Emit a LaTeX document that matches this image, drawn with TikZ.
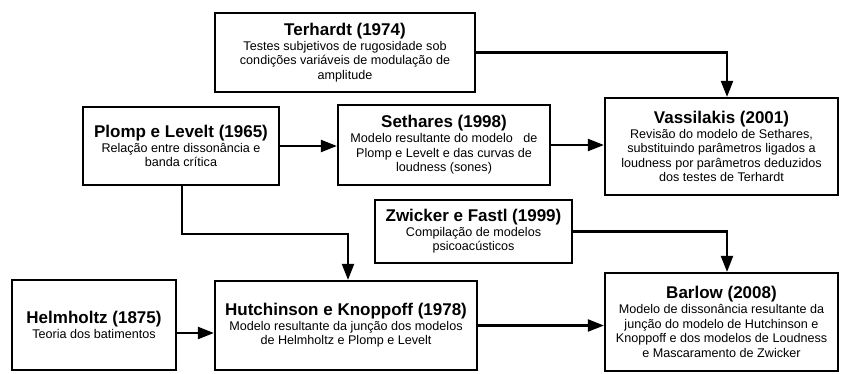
\documentclass[tikz,border=0pt]{standalone}
\usepackage{fontspec}
\setmainfont{Liberation Sans}
\usepackage{tikz}
\usetikzlibrary{arrows.meta, positioning}

\begin{document}
\begin{tikzpicture}[
    x=1pt, y=-1pt,
    >={Triangle[length=16pt, width=12pt]},
    line width=2.2pt,
    box/.style={rectangle, draw, line width=2.2pt, align=center, inner sep=2pt,
                font=\fontsize{12.6}{14.6}\selectfont}
]
\useasboundingbox (0,0) rectangle (842,373);

% Nodes
\node[box, minimum width=260pt, minimum height=79pt] (terhardt) at (345,52.5)
  {{\fontsize{17}{19}\selectfont\bfseries Terhardt (1974)}\\
   Testes subjetivos de rugosidade sob\\
   condições variáveis de modulação de\\
   amplitude};
\node[box, minimum width=196pt, minimum height=78pt] (plomp) at (181,146)
  {{\fontsize{17}{19}\selectfont\bfseries Plomp e Levelt (1965)}\\
   Relação entre dissonância e\\
   banda crítica};
\node[box, minimum width=212pt, minimum height=80pt] (sethares) at (444,145)
  {{\fontsize{17}{19}\selectfont\bfseries Sethares (1998)}\\
   Modelo resultante do modelo\ \ \ de\\
   Plomp e Levelt e das curvas de\\
   loudness (sones)};
\node[box, minimum width=233pt, minimum height=97pt] (vassilakis) at (721.5,146.5)
  {{\fontsize{17}{19}\selectfont\bfseries Vassilakis (2001)}\\
   Revisão do modelo de Sethares,\\
   substituindo parâmetros ligados a\\
   loudness por parâmetros deduzidos\\
   dos testes de Terhardt};
\node[box, minimum width=197pt, minimum height=63pt] (zwicker) at (473.5,231.5)
  {{\fontsize{17}{19}\selectfont\bfseries Zwicker e Fastl (1999)}\\
   Compilação de modelos\\
   psicoacústicos};
\node[box, minimum width=164pt, minimum height=90pt] (helmholtz) at (94,325)
  {{\fontsize{17}{19}\selectfont\bfseries Helmholtz (1875)}\\
   Teoria dos batimentos};
\node[box, minimum width=262pt, minimum height=89pt] (hutchinson) at (346,325.5)
  {{\fontsize{17}{19}\selectfont\bfseries Hutchinson e Knoppoff (1978)}\\
   Modelo resultante da junção dos modelos\\
   de Helmholtz e Plomp e Levelt};
\node[box, minimum width=233pt, minimum height=98pt] (barlow) at (721.5,322)
  {{\fontsize{17}{19}\selectfont\bfseries Barlow (2008)}\\
   Modelo de dissonância resultante da\\
   junção do modelo de Hutchinson e\\
   Knoppoff e dos modelos de Loudness\\
   e Mascaramento de Zwicker};

% Arrows
\draw[->] (terhardt.east) -| ([xshift=5.5pt]vassilakis.north);
\draw[->] (plomp.east) -- (plomp.east -| sethares.west);
\draw[->] (sethares.east) -- (sethares.east -| vassilakis.west);
\draw[->] ([xshift=1pt]plomp.south) -- ++(0,48) -| ([xshift=2pt]hutchinson.north);
\draw[->] (zwicker.east) -| ([xshift=5.5pt]barlow.north);
\draw[->] ([yshift=-8pt]helmholtz.east) -- ([yshift=-8pt]helmholtz.east -| hutchinson.west);
\draw[->] (hutchinson.east) -- (hutchinson.east -| barlow.west);

\end{tikzpicture}
\end{document}
